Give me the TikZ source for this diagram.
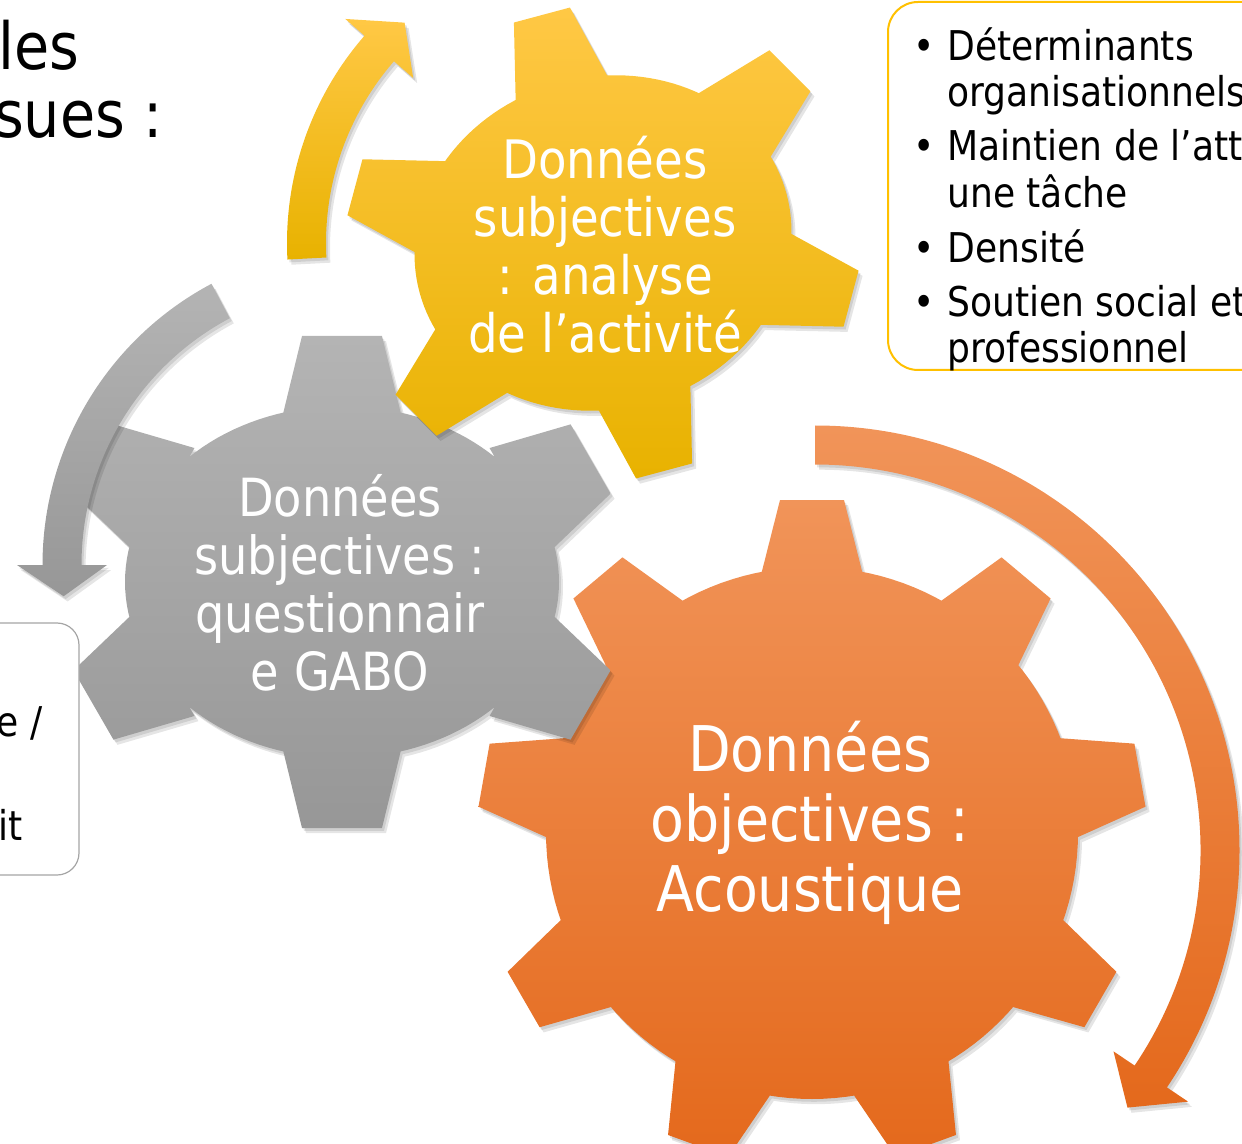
\documentclass[tikz,border=0pt]{standalone}
\usepackage{fontspec}
\setmainfont{DejaVu Sans}[FakeStretch=0.88]
\definecolor{yTop}{HTML}{FFC845}
\definecolor{yBot}{HTML}{E8B200}
\definecolor{gTop}{HTML}{B4B4B4}
\definecolor{gBot}{HTML}{979797}
\definecolor{oTop}{HTML}{F19459}
\definecolor{oBot}{HTML}{E4691C}
\definecolor{boxY}{HTML}{FFC000}
\definecolor{boxG}{HTML}{A5A5A5}
\newcommand\bul{\makebox[17pt][l]{•}}
\newcommand\ind{\hspace*{17pt}}
% gear drawing: uses \gcx \gcy \gA \gB \grho \gst \gh \gwt \gwb \gd
\newcommand\gear[2]{%
  \pgfmathsetmacro\gstep{360/#2}%
  \pgfmathtruncatemacro\glast{#2-1}%
  \path[#1] plot[domain=0:360, samples=145, variable=\t] ({gX(\t,0,0)},{gY(\t,0,0)}) -- cycle
    foreach \k in {0,...,\glast} {
      ({gX(\gst+\gstep*\k,-\gd,-\gwb)},{gY(\gst+\gstep*\k,-\gd,-\gwb)})
      -- ({gX(\gst+\gstep*\k,\gh,-\gwt)},{gY(\gst+\gstep*\k,\gh,-\gwt)})
      -- ({gX(\gst+\gstep*\k,\gh,\gwt)},{gY(\gst+\gstep*\k,\gh,\gwt)})
      -- ({gX(\gst+\gstep*\k,-\gd,\gwb)},{gY(\gst+\gstep*\k,-\gd,\gwb)}) -- cycle
    };%
}
% circular block arrow
\newcommand\carrow[8]{%
  \begin{scope}[shift={#2}]
  \pgfmathsetmacro\ro{#3+#4}\pgfmathsetmacro\ri{#3-#4}%
  \pgfmathsetmacro\bo{#3+#5}\pgfmathsetmacro\bi{#3-#5}%
  \path[#1] (#6:\ro) arc[start angle=#6, end angle=#7, radius=\ro]
     -- (#7:\bo) -- (#8:#3) -- (#7:\bi) -- (#7:\ri)
     arc[start angle=#7, end angle=#6, radius=\ri] -- cycle;
  \end{scope}}
\begin{document}
\begin{tikzpicture}[x=0.5pt,y=-0.5pt,
  declare function={
    glx(\a,\p,\q)=\gA*cos(\a)+\p*cos(\a)-\q*sin(\a);
    gly(\a,\p,\q)=\gB*sin(\a)+\p*sin(\a)+\q*cos(\a);
    gX(\a,\p,\q)=\gcx+glx(\a,\p,\q)*cos(\grho)-gly(\a,\p,\q)*sin(\grho);
    gY(\a,\p,\q)=\gcy+glx(\a,\p,\q)*sin(\grho)+gly(\a,\p,\q)*cos(\grho);
  },
  shadow/.style={preaction={fill=black, fill opacity=0.10, transform canvas={xshift=1pt,yshift=-1.4pt}},
                 preaction={fill=black, fill opacity=0.10, transform canvas={xshift=2pt,yshift=-2.6pt}}},
  gearO/.style={shadow, top color=oTop, bottom color=oBot},
  gearG/.style={shadow, top color=gTop, bottom color=gBot},
  gearY/.style={shadow, top color=yTop, bottom color=yBot},
  arrO/.style={shadow, top color=oTop, bottom color=oBot},
  arrG/.style={shadow, top color=gTop, bottom color=gBot},
  arrY/.style={shadow, top color=yTop, bottom color=yBot},
  geartext/.style={text=white, align=center, inner sep=0pt},
  plain/.style={text=black, inner sep=0pt},
]
\useasboundingbox (0,0) rectangle (1242,1144);
\clip (0,0) rectangle (1242,1144);

% top-left title fragment
\node[plain, anchor=base east, font=\fontsize{32.5pt}{34pt}\selectfont] (title1) at (80,70) {les};
\node[plain, anchor=base east, font=\fontsize{32.5pt}{34pt}\selectfont] (title2) at (163,138) {sues :};

% right box
\draw[boxY, line width=1pt, fill=white, rounded corners=15pt] (888,2) rectangle (1300,370);
\node[plain, anchor=base west, font=\fontsize{20.5pt}{23pt}\selectfont] (list) at (913,61) {%
\begin{tabular}[t]{@{}l@{}}
\bul Déterminants\\
\ind organisationnels\\[4pt]
\bul Maintien de l’att\\
\ind une tâche\\[4pt]
\bul Densité\\[4pt]
\bul Soutien social et\\
\ind professionnel
\end{tabular}};

% orange gear (9 teeth)
\def\gcx{812}\def\gcy{833}\def\gA{266}\def\gB{266}\def\grho{0}
\def\gst{-90}\def\gh{67}\def\gwt{32}\def\gwb{52}\def\gd{12}
\gear{gearO}{9}

% gray gear (6 teeth)
\def\gcx{342}\def\gcy{582}\def\gA{217}\def\gB{176}\def\grho{0}
\def\gst{-90}\def\gh{70}\def\gwt{40}\def\gwb{60}\def\gd{12}
\gear{gearG}{6}

% yellow gear (6 teeth, rotated)
\def\gcx{603}\def\gcy{243}\def\gA{190}\def\gB{166}\def\grho{-15}
\def\gst{-90}\def\gh{70}\def\gwt{29}\def\gwb{49}\def\gd{12}
\gear{gearY}{6}

% left box
\draw[boxG, line width=0.6pt, fill=white, rounded corners=11pt] (-40,623) rectangle (79,875);
\node[plain, anchor=base east, font=\fontsize{20.5pt}{23pt}\selectfont] (left1) at (43,736) {e /};
\node[plain, anchor=base east, font=\fontsize{20.5pt}{23pt}\selectfont] (left2) at (23,840) {it};

% arrows
\carrow{arrY}{(603,243)}{296.5}{19.5}{45}{177}{221}{228}
\carrow{arrG}{(361,565)}{299}{19.5}{45}{242}{180}{174}
\carrow{arrO}{(815,850)}{405}{19.5}{45}{-90}{34}{39.5}

% gear labels
\node[geartext, font=\fontsize{26.5pt}{29pt}\selectfont] (tY) at (605,245) {Données\\subjectives\\: analyse\\de l’activité};
\node[geartext, font=\fontsize{26.3pt}{29pt}\selectfont] (tG) at (340,583) {Données\\subjectives :\\questionnair\\e GABO};
\node[geartext, font=\fontsize{31.5pt}{35pt}\selectfont] (tO) at (810,823) {Données\\objectives :\\Acoustique};
\end{tikzpicture}
\end{document}
